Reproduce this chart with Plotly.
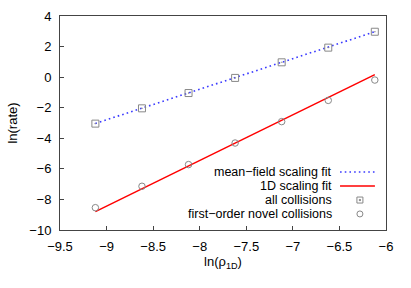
import plotly.graph_objects as go

# Data
ln_rho = [-9.12, -8.62, -8.12, -7.62, -7.12, -6.62, -6.12]
all_collisions = [-3.04, -2.04, -1.04, -0.05, 0.97, 1.93, 2.97]
first_order = [-8.54, -7.14, -5.72, -4.31, -2.91, -1.52, -0.19]
fit_x = [-9.12, -6.12]
mean_field_fit = [-3.03, 2.97]
one_d_fit = [-8.80, 0.16]

x_ticks = [-9.5, -9, -8.5, -8, -7.5, -7, -6.5, -6]
y_ticks = [-10, -8, -6, -4, -2, 0, 2, 4]

FONT = "Liberation Sans, Arial, sans-serif"
FS = 13
LFS = 12.5
GRAY = "#888888"
BLUE = "#3a3aff"
RED = "#ff0000"
AXC = "#444444"

fig = go.Figure()
fig.add_trace(go.Scatter(x=fit_x, y=mean_field_fit, mode="lines",
                         line=dict(color=BLUE, width=1.6, dash="1.6px,3.1px"),
                         name="mean\u2212field scaling fit"))
fig.add_trace(go.Scatter(x=fit_x, y=one_d_fit, mode="lines",
                         line=dict(color=RED, width=1.5),
                         name="1D scaling fit"))
fig.add_trace(go.Scatter(x=ln_rho, y=all_collisions, mode="markers",
                         marker=dict(symbol="square-open-dot", size=7, color=GRAY,
                                     line=dict(width=1, color=GRAY)),
                         name="all collisions"))
fig.add_trace(go.Scatter(x=ln_rho, y=first_order, mode="markers",
                         marker=dict(symbol="circle-open", size=6.5, color=GRAY,
                                     line=dict(width=1, color=GRAY)),
                         name="first\u2212order novel collisions"))

# Manual legend (text right-aligned, sample on the right, as in gnuplot)
labels = ["mean\u2212field scaling fit", "1D scaling fit", "all collisions",
          "first\u2212order novel collisions"]
rows = [0.271, 0.206, 0.140, 0.075]
annotations = []
for lab, yy in zip(labels, rows):
    annotations.append(dict(text=lab, x=0.837, y=yy, xref="paper", yref="paper",
                            xanchor="right", yanchor="middle", showarrow=False,
                            borderpad=0,
                            font=dict(family=FONT, size=LFS, color="black")))
shapes = [
    dict(type="line", xref="paper", yref="paper", x0=0.859, x1=0.966, y0=rows[0], y1=rows[0],
         line=dict(color=BLUE, width=1.6, dash="1.6px,3.1px")),
    dict(type="line", xref="paper", yref="paper", x0=0.859, x1=0.966, y0=rows[1], y1=rows[1],
         line=dict(color=RED, width=1.5)),
    dict(type="rect", xref="paper", yref="paper", xsizemode="pixel", ysizemode="pixel",
         xanchor=0.92, yanchor=rows[2], x0=-3, x1=3, y0=-3, y1=3,
         line=dict(color=GRAY, width=1)),
    dict(type="rect", xref="paper", yref="paper", xsizemode="pixel", ysizemode="pixel",
         xanchor=0.92, yanchor=rows[2], x0=-0.6, x1=0.6, y0=-0.6, y1=0.6,
         line=dict(color=GRAY, width=1), fillcolor=GRAY),
    dict(type="circle", xref="paper", yref="paper", xsizemode="pixel", ysizemode="pixel",
         xanchor=0.92, yanchor=rows[3], x0=-3, x1=3, y0=-3, y1=3,
         line=dict(color=GRAY, width=1)),
]

axis_common = dict(showgrid=False, zeroline=False, showline=True, mirror=True,
                   linecolor=AXC, linewidth=1, ticks="inside", ticklen=4,
                   tickcolor=AXC, tickwidth=1,
                   tickfont=dict(family=FONT, size=FS, color="black"))
fig.update_layout(
    width=411, height=288,
    margin=dict(l=60, r=25, t=16, b=58),
    paper_bgcolor="white", plot_bgcolor="white",
    showlegend=False,
    font=dict(family=FONT, size=FS, color="black"),
    xaxis=dict(range=[-9.5, -6], tickvals=x_ticks, ticklabelstandoff=4,
               title=dict(text="ln(\u03c1<sub>1D</sub>)", standoff=4,
                          font=dict(family=FONT, size=FS)),
               automargin=False, **axis_common),
    yaxis=dict(range=[-10, 4], tickvals=y_ticks, ticklabelstandoff=5,
               title=dict(text="ln(rate)", standoff=8,
                          font=dict(family=FONT, size=FS)),
               automargin=False, **axis_common),
    annotations=annotations, shapes=shapes,
)
fig.write_html("out.html", config={"displayModeBar": False},
               post_script="document.body.style.margin='0';document.body.style.padding='0';")
